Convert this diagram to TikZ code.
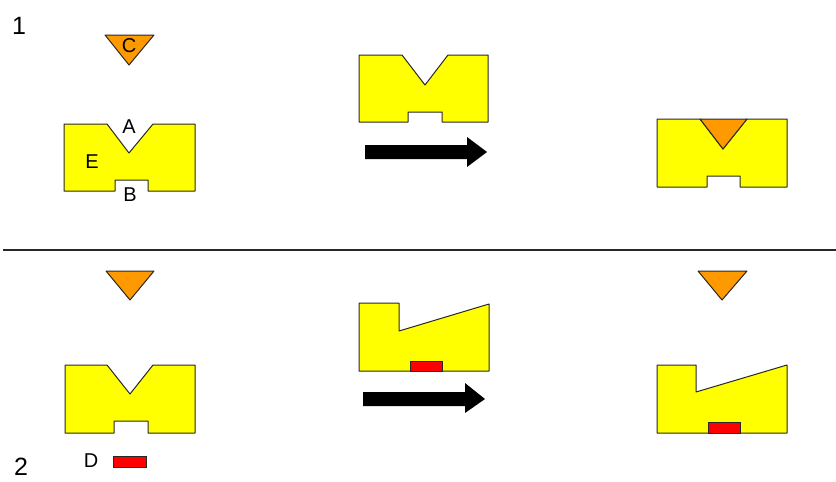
\documentclass[tikz,border=0pt]{standalone}
\usepackage{fontspec}
\setmainfont{Liberation Sans}
\definecolor{ycol}{RGB}{255,255,0}
\definecolor{ocol}{RGB}{255,153,0}
\definecolor{rcol}{RGB}{255,0,0}
\definecolor{lcol}{RGB}{40,40,40}
\tikzset{part/.style={draw=lcol,fill=ycol,line width=1pt,line join=round}}
\tikzset{wedge/.style={draw=lcol,fill=ocol,line width=1pt,line join=round}}
\tikzset{plug/.style={draw=lcol,fill=rcol,line width=1pt}}
\tikzset{bigarrow/.style={fill=black}}
\tikzset{tag/.style={inner sep=0pt,font=\fontsize{20}{24}\selectfont}}
\tikzset{stage/.style={inner sep=0pt,font=\fontsize{25}{30}\selectfont}}

\begin{document}
\begin{tikzpicture}[x=1pt,y=-1pt]
\useasboundingbox (0,0) rectangle (836,482);

% step 1
\draw [wedge] (105,35) -- (154,35) -- (129,65) -- cycle;
\draw [part] (64,124) -- (107,124) -- (129,153) -- (153,124) -- (195,124) -- (195,191)
  -- (148,191) -- (148,180) -- (115,180) -- (115,191) -- (64,191) -- cycle;

\draw [part] (359,55) -- (402,55) -- (425,85) -- (448,55) -- (488,55) -- (488,122)
  -- (442,122) -- (442,112) -- (408,112) -- (408,122) -- (359,122) -- cycle;
\fill [bigarrow] (365,145) -- (467,145) -- (467,137) -- (487,152) -- (467,167)
  -- (467,159) -- (365,159) -- cycle;

\draw [part] (657,119) -- (700,119) -- (723,149) -- (747,119) -- (787,119) -- (787,187)
  -- (740,187) -- (740,176) -- (707,176) -- (707,187) -- (657,187) -- cycle;
\draw [wedge] (700,119) -- (747,119) -- (723,149) -- cycle;

\node [stage] (one) at (19,26) {1};
\node [tag] (c) at (129,46) {C};
\node [tag] (a) at (129,127) {A};
\node [tag] (e) at (92,162) {E};
\node [tag] (b) at (130,195) {B};

\draw [lcol,line width=2pt] (3,250) -- (836,250);

% step 2
\draw [wedge] (106,271) -- (154,271) -- (130,300) -- cycle;
\draw [part] (65,365) -- (107,365) -- (130,394) -- (153,365) -- (195,365) -- (195,433)
  -- (148,433) -- (148,421) -- (114,421) -- (114,433) -- (65,433) -- cycle;
\draw [plug] (113,456) rectangle (146,467);

\draw [part] (359,303) -- (399,303) -- (399,331) -- (489,304) -- (489,371) -- (359,371) -- cycle;
\draw [plug] (410,361) rectangle (442,371);
\fill [bigarrow] (363,392) -- (465,392) -- (465,383) -- (485,399) -- (465,413)
  -- (465,406) -- (363,406) -- cycle;

\draw [wedge] (698,271) -- (747,271) -- (722,300) -- cycle;
\draw [part] (657,365) -- (696,365) -- (696,392) -- (787,365) -- (787,433) -- (657,433) -- cycle;
\draw [plug] (708,422) rectangle (740,433);

\node [tag] (d) at (91,461) {D};
\node [stage] (two) at (21,467) {2};
\end{tikzpicture}
\end{document}
